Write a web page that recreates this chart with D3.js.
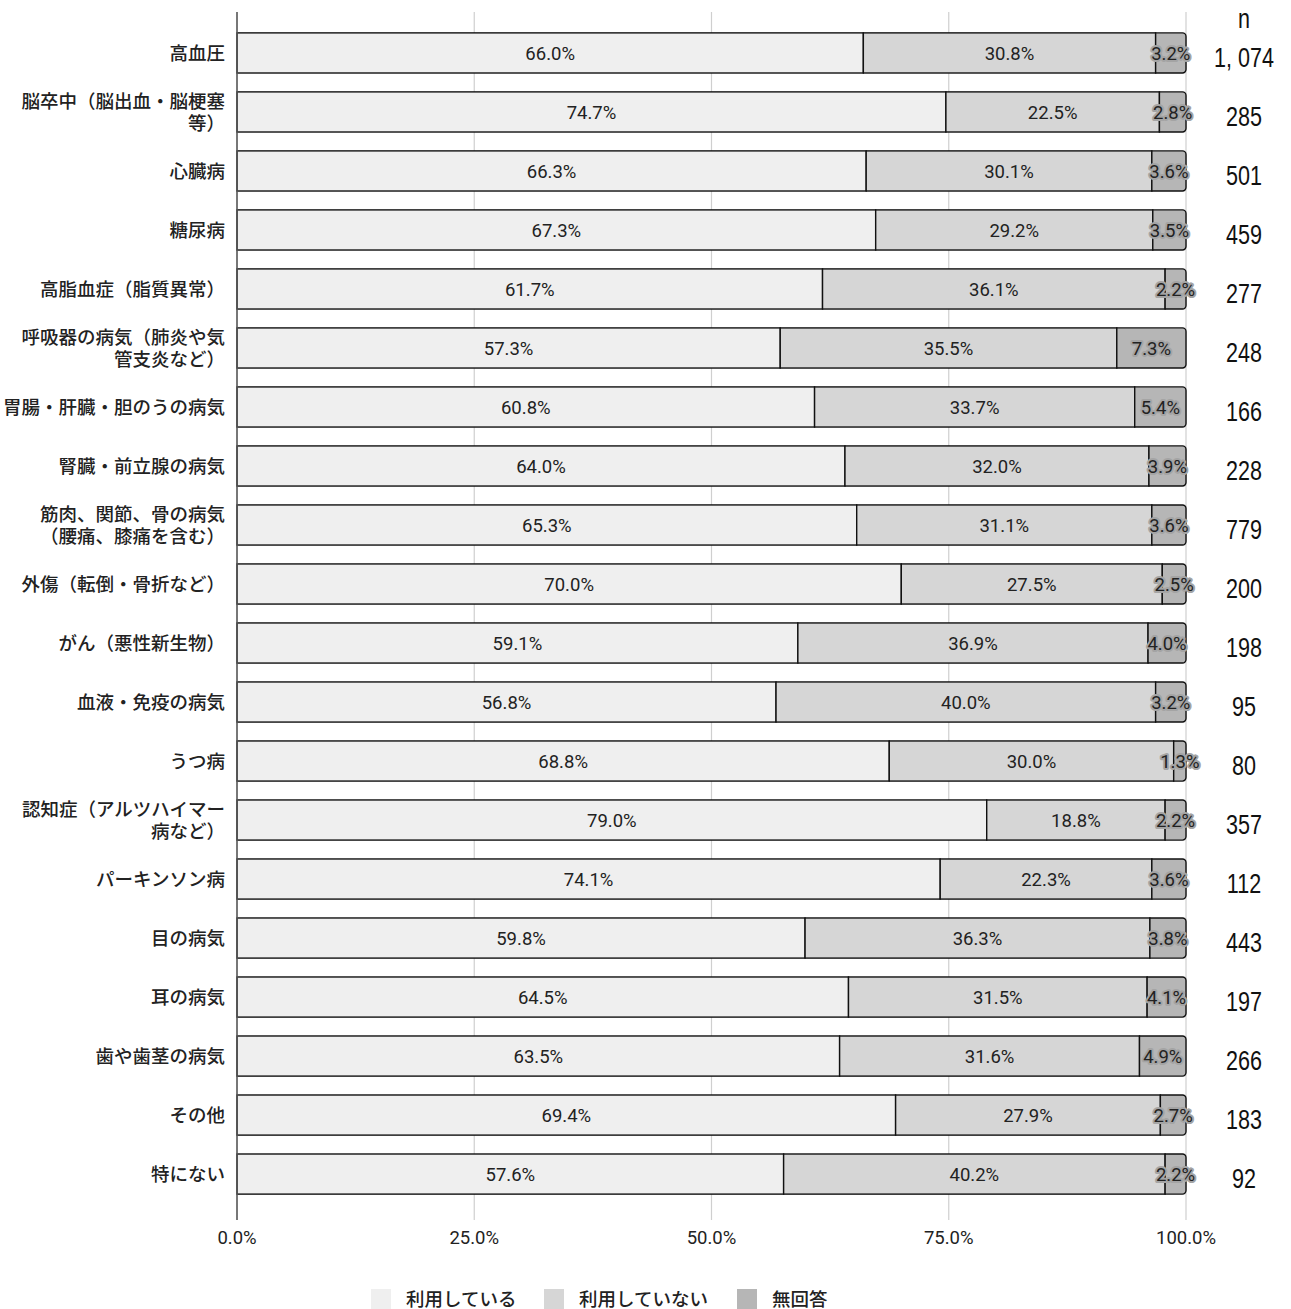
<!DOCTYPE html>
<html><head><meta charset="utf-8">
<script src="https://cdn.jsdelivr.net/npm/d3@7"></script>
<style>
body{margin:0;background:#fff;}
svg{display:block;}
</style></head>
<body>
<svg id="chart" width="1291" height="1309"></svg>
<script>
const categories = [
  "高血圧",
  "脳卒中（脳出血・脳梗塞\n等）",
  "心臓病",
  "糖尿病",
  "高脂血症（脂質異常）",
  "呼吸器の病気（肺炎や気\n管支炎など）",
  "胃腸・肝臓・胆のうの病気",
  "腎臓・前立腺の病気",
  "筋肉、関節、骨の病気\n（腰痛、膝痛を含む）",
  "外傷（転倒・骨折など）",
  "がん（悪性新生物）",
  "血液・免疫の病気",
  "うつ病",
  "認知症（アルツハイマー\n病など）",
  "パーキンソン病",
  "目の病気",
  "耳の病気",
  "歯や歯茎の病気",
  "その他",
  "特にない"
];
const seriesNames = ["利用している", "利用していない", "無回答"];
const using    = [66.0, 74.7, 66.3, 67.3, 61.7, 57.3, 60.8, 64.0, 65.3, 70.0, 59.1, 56.8, 68.8, 79.0, 74.1, 59.8, 64.5, 63.5, 69.4, 57.6];
const notUsing = [30.8, 22.5, 30.1, 29.2, 36.1, 35.5, 33.7, 32.0, 31.1, 27.5, 36.9, 40.0, 30.0, 18.8, 22.3, 36.3, 31.5, 31.6, 27.9, 40.2];
const noAnswer = [3.2, 2.8, 3.6, 3.5, 2.2, 7.3, 5.4, 3.9, 3.6, 2.5, 4.0, 3.2, 1.3, 2.2, 3.6, 3.8, 4.1, 4.9, 2.7, 2.2];
const nValues  = ["1, 074", "285", "501", "459", "277", "248", "166", "228", "779", "200", "198", "95", "80", "357", "112", "443", "197", "266", "183", "92"];
const xTicks = [0, 25, 50, 75, 100];

const colors = ["#efefef", "#d6d6d6", "#b6b6b6"];
const svg = d3.select("#chart");
const x = d3.scaleLinear().domain([0, 100]).range([237, 1186]);
const y = d3.scaleBand().domain(d3.range(categories.length)).range([14, 1213]).padding(0.32);
const bw = y.bandwidth();
const axisTop = 12, axisBottom = 1220;

// grid lines
svg.append("g").selectAll("line").data(xTicks.slice(1)).join("line")
  .attr("x1", d => x(d)).attr("x2", d => x(d))
  .attr("y1", axisTop).attr("y2", axisBottom)
  .attr("stroke", "#cfcfcf").attr("stroke-width", 1.2);

// rows
const rows = categories.map((c, i) => {
  const vals = [using[i], notUsing[i], noAnswer[i]];
  const tot = d3.sum(vals);
  let acc = 0;
  const segs = vals.map((v, k) => {
    const s = {k, v, x0: acc / tot * 100, x1: (acc + v) / tot * 100};
    acc += v;
    return s;
  });
  return {i, segs};
});

const r = 3.5;
const gBars = svg.append("g");
rows.forEach(row => {
  const top = y(row.i), h = bw;
  row.segs.forEach(s => {
    const x0 = x(s.x0), x1 = x(s.x1);
    if (s.k < 2) {
      gBars.append("rect").attr("x", x0).attr("y", top).attr("width", x1 - x0).attr("height", h)
        .attr("fill", colors[s.k]).attr("stroke", "#111").attr("stroke-width", 1.4);
    } else {
      const p = d3.path();
      p.moveTo(x0, top);
      p.lineTo(x1 - r, top);
      p.arcTo(x1, top, x1, top + r, r);
      p.lineTo(x1, top + h - r);
      p.arcTo(x1, top + h, x1 - r, top + h, r);
      p.lineTo(x0, top + h);
      p.closePath();
      gBars.append("path").attr("d", p.toString())
        .attr("fill", colors[s.k]).attr("stroke", "#111").attr("stroke-width", 1.4);
    }
  });
});

// value labels
const gLab = svg.append("g").attr("font-family", "Roboto, 'Liberation Sans', Arial, sans-serif").attr("font-size", 18.5).attr("fill", "#222");
rows.forEach(row => {
  row.segs.forEach(s => {
    const t = gLab.append("text")
      .attr("x", (x(s.x0) + x(s.x1)) / 2)
      .attr("y", y(row.i) + bw / 2)
      .attr("dy", "0.36em")
      .attr("text-anchor", "middle")
      .text(s.v.toFixed(1) + "%");
    if (s.k === 2) {
      t.attr("stroke", "#a4a4a4").attr("stroke-width", 4).attr("stroke-linejoin", "round")
        .attr("paint-order", "stroke");
    }
  });
});

// y axis line
svg.append("line").attr("x1", x(0)).attr("x2", x(0)).attr("y1", axisTop).attr("y2", axisBottom)
  .attr("stroke", "#555").attr("stroke-width", 1.6);

// category labels
const gCat = svg.append("g").attr("font-family", "'Noto Sans CJK JP', sans-serif").attr("font-size", 18.5)
  .attr("font-weight", 500).attr("fill", "#222").attr("text-anchor", "end");
categories.forEach((c, i) => {
  const lines = c.split("\n");
  const cy = y(i) + bw / 2;
  const lh = 22;
  lines.forEach((ln, j) => {
    gCat.append("text").attr("x", 225)
      .attr("y", cy + (j - (lines.length - 1) / 2) * lh)
      .attr("dy", "0.36em").text(ln);
  });
});

// n column (condensed)
const gN = svg.append("g").attr("font-family", "'Liberation Sans', Arial, sans-serif")
  .attr("font-size", 28).attr("fill", "#111").attr("text-anchor", "middle");
gN.append("text").attr("transform", "translate(1244,18) scale(0.77,1)").attr("dy", "0.36em").text("n");
nValues.forEach((n, i) => {
  gN.append("text").attr("transform", `translate(1244,${y(i) + bw / 2 + 4}) scale(0.77,1)`)
    .attr("dy", "0.36em").text(n);
});

// x tick labels
svg.append("g").attr("font-family", "Roboto, 'Liberation Sans', Arial, sans-serif").attr("font-size", 18.5).attr("fill", "#222")
  .attr("text-anchor", "middle")
  .selectAll("text").data(xTicks).join("text")
  .attr("x", d => x(d)).attr("y", 1237).attr("dy", "0.36em")
  .text(d => d.toFixed(1) + "%");

// legend
const legendX = [371, 544, 737];
const gLeg = svg.append("g").attr("font-family", "'Noto Sans CJK JP', sans-serif").attr("font-size", 18.5)
  .attr("font-weight", 500).attr("fill", "#222");
seriesNames.forEach((s, k) => {
  gLeg.append("rect").attr("x", legendX[k]).attr("y", 1289).attr("width", 20).attr("height", 20).attr("fill", colors[k]);
  gLeg.append("text").attr("x", legendX[k] + 35).attr("y", 1299).attr("dy", "0.36em").text(s);
});
</script>
</body></html>
